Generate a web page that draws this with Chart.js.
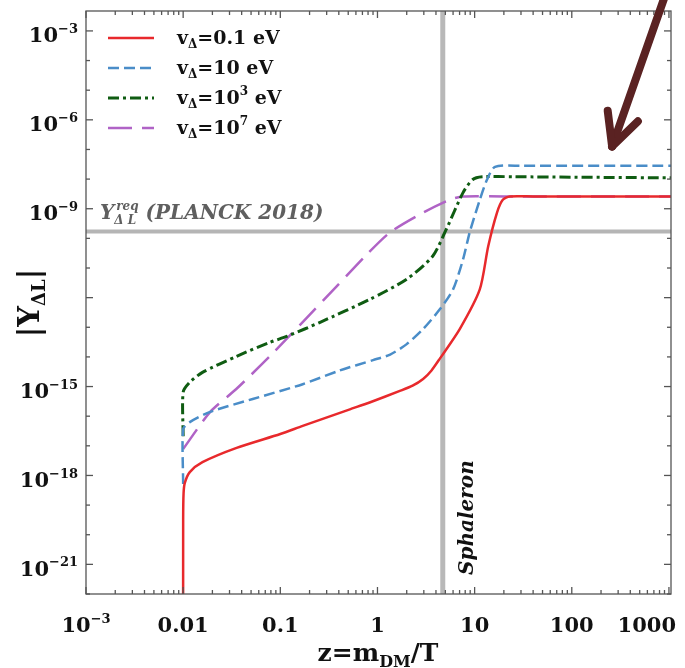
<!DOCTYPE html>
<html>
<head>
<meta charset="utf-8">
<script src="https://cdn.jsdelivr.net/npm/chart.js@4.4.0/dist/chart.umd.min.js"></script>
<style>
  html, body { margin: 0; padding: 0; background: #fff; }
  #wrap { width: 685px; height: 668px; }
</style>
</head>
<body>
<div id="wrap"><canvas id="chart" width="685" height="668"></canvas></div>
<script>
// Axis ranges
const X_MIN = 1e-3, X_MAX = 1050;
const Y_MIN = 1e-22, Y_MAX = 4.7e-3;

// Curves: z = m_DM/T and |Y_ΔL|
const zRed = [0.01, 0.01, 0.0101, 0.0104, 0.0117, 0.0158, 0.0355, 0.1, 0.17, 0.52, 0.83, 1.7, 2.3, 2.95, 3.6, 4.4, 7.05, 11.3, 13.8, 17, 19.5, 23, 40, 1050];
const yRed = [1e-23, 3.2e-20, 2.5e-19, 5.6e-19, 1.3e-18, 2.8e-18, 8.5e-18, 2.5e-17, 4.7e-17, 1.7e-16, 2.9e-16, 7.1e-16, 1.07e-15, 1.8e-15, 3.5e-15, 8.9e-15, 8.9e-14, 1.9e-12, 5.4e-11, 7.4e-10, 2.0e-9, 2.6e-9, 2.6e-9, 2.6e-9];

const zBlue = [0.01, 0.01, 0.0117, 0.019, 0.052, 0.17, 0.41, 0.9, 1.35, 2.0, 2.93, 4.4, 6.0, 7.6, 8.9, 11.3, 13.4, 16.2, 30, 1050];
const yBlue = [5.1e-19, 3.7e-17, 6.3e-17, 1.4e-16, 3.8e-16, 1.2e-15, 3.5e-15, 7.8e-15, 1.2e-14, 2.7e-14, 8.5e-14, 4.1e-13, 1.9e-12, 1.95e-11, 1.6e-10, 2.0e-9, 9.5e-9, 2.6e-8, 2.8e-8, 2.8e-8];

const zGreen = [0.01, 0.01, 0.0117, 0.0158, 0.0355, 0.078, 0.118, 0.26, 0.83, 2.0, 3.7, 5.1, 7.6, 9.5, 12, 25, 1050];
const yGreen = [2.1e-17, 6.5e-16, 1.4e-15, 3.0e-15, 1.05e-14, 3.1e-14, 5.0e-14, 1.5e-13, 8.7e-13, 4.2e-12, 2.5e-11, 2.0e-10, 3.5e-9, 9.5e-9, 1.2e-8, 1.2e-8, 1.1e-8];

const zPurple = [0.01, 0.019, 0.035, 0.078, 0.17, 0.38, 0.78, 1.35, 2.95, 5.5, 7.6, 20, 1050];
const yPurple = [7.8e-18, 1.4e-16, 8.1e-16, 1.05e-14, 1.5e-13, 2.4e-12, 2.9e-11, 1.6e-10, 7.4e-10, 2.0e-9, 2.6e-9, 2.6e-9, 2.6e-9];

// Reference lines
const planckY = 1.7e-10;
const sphaleronZ = 4.7;

// Ticks and labels ([text, kind] pieces, kind: n / sup / sub / stack)
const xTickValues = [1e-3, 0.01, 0.1, 1, 10, 100, 1000];
const xTickLabels = [[['10', 'n'], ['−3', 'sup']], [['0.01', 'n']], [['0.1', 'n']], [['1', 'n']], [['10', 'n']], [['100', 'n']], [['1000', 'n']]];
const yTickValues = [1e-3, 1e-6, 1e-9, 1e-15, 1e-18, 1e-21];
const yTickLabels = [[['10', 'n'], ['−3', 'sup']], [['10', 'n'], ['−6', 'sup']], [['10', 'n'], ['−9', 'sup']], [['10', 'n'], ['−15', 'sup']], [['10', 'n'], ['−18', 'sup']], [['10', 'n'], ['−21', 'sup']]];

const legendLabels = [
  [['v', 'n'], ['Δ', 'sub'], ['=0.1 eV', 'n']],
  [['v', 'n'], ['Δ', 'sub'], ['=10 eV', 'n']],
  [['v', 'n'], ['Δ', 'sub'], ['=10', 'n'], ['3', 'sup'], [' eV', 'n']],
  [['v', 'n'], ['Δ', 'sub'], ['=10', 'n'], ['7', 'sup'], [' eV', 'n']]
];
const xTitle = [['z=m', 'n'], ['DM', 'sub'], ['/T', 'n']];
const yTitle = [['|Y', 'n'], ['ΔL', 'sub'], ['|', 'n']];
const planckLabel = [['Y', 'n'], ['req|Δ L', 'stack'], [' (PLANCK 2018)', 'n']];

// Arrow annotation (tip and tail in data coords)
const arrowTip = { x: 260, y: 1.26e-7 };
const arrowTail = { x: 915, y: 1.6e-2 };

const FAMILY = '"DejaVu Serif", serif';

function pts(zs, ys) {
  return zs.map((z, i) => ({ x: z, y: ys[i] }));
}

function richParts(ctx, segs, size, style) {
  const base = style + ' ' + size + 'px ' + FAMILY;
  const small = style + ' ' + Math.round(size * 0.62) + 'px ' + FAMILY;
  return segs.map(([t, k]) => {
    if (k === 'stack') {
      const [up, dn] = t.split('|');
      ctx.font = small;
      return { t, k, up, dn, w: Math.max(ctx.measureText(up).width, ctx.measureText(dn).width) + 2 };
    }
    ctx.font = k === 'n' ? base : small;
    return { t, k, w: ctx.measureText(t).width };
  });
}

function richWidth(ctx, segs, size, style) {
  return richParts(ctx, segs, size, style).reduce((s, p) => s + p.w, 0);
}

function drawRich(ctx, segs, x, y, size, style, align) {
  const base = style + ' ' + size + 'px ' + FAMILY;
  const small = style + ' ' + Math.round(size * 0.62) + 'px ' + FAMILY;
  const parts = richParts(ctx, segs, size, style);
  const total = parts.reduce((s, p) => s + p.w, 0);
  let cx = align === 'center' ? x - total / 2 : align === 'right' ? x - total : x;
  ctx.textAlign = 'left';
  ctx.textBaseline = 'alphabetic';
  parts.forEach(p => {
    if (p.k === 'n') { ctx.font = base; ctx.fillText(p.t, cx, y); }
    else if (p.k === 'sub') { ctx.font = small; ctx.fillText(p.t, cx, y + size * 0.22); }
    else if (p.k === 'sup') { ctx.font = small; ctx.fillText(p.t, cx, y - size * 0.45); }
    else {
      ctx.font = small;
      ctx.fillText(p.up, cx + 2, y - size * 0.45);
      ctx.fillText(p.dn, cx, y + size * 0.25);
    }
    cx += p.w;
  });
}

function seg(ctx, x1, y1, x2, y2) {
  ctx.beginPath();
  ctx.moveTo(x1, y1);
  ctx.lineTo(x2, y2);
  ctx.stroke();
}

const decorPlugin = {
  id: 'decor',
  afterDatasetsDraw(chart) {
    const { ctx, chartArea: a, scales: { x, y } } = chart;
    ctx.save();

    // frame
    ctx.strokeStyle = '#555';
    ctx.lineWidth = 1.3;
    ctx.strokeRect(a.left, a.top, a.right - a.left, a.bottom - a.top);

    // x ticks, inward on bottom and top
    for (let e = -3; e <= 3; e++) {
      for (let m = 1; m < 10; m++) {
        const v = m * Math.pow(10, e);
        if (v < X_MIN || v > X_MAX) continue;
        const px = x.getPixelForValue(v);
        const len = m === 1 ? 7 : 4;
        seg(ctx, px, a.bottom, px, a.bottom - len);
        seg(ctx, px, a.top, px, a.top + len);
      }
    }
    // y ticks every decade, longer every third
    for (let e = -22; e <= -3; e++) {
      const py = y.getPixelForValue(Math.pow(10, e));
      const len = e % 3 === 0 ? 7 : 4;
      seg(ctx, a.left, py, a.left + len, py);
      seg(ctx, a.right, py, a.right - len, py);
    }

    // tick labels
    ctx.fillStyle = '#111';
    xTickValues.forEach((v, i) => {
      const w = richWidth(ctx, xTickLabels[i], 21, 'bold');
      const px = Math.min(x.getPixelForValue(v), 676 - w / 2);
      drawRich(ctx, xTickLabels[i], px, a.bottom + 38, 21, 'bold', 'center');
    });
    yTickValues.forEach((v, i) => {
      const py = y.getPixelForValue(v);
      drawRich(ctx, yTickLabels[i], a.left - 8, py + 11.5, 21, 'bold', 'right');
    });

    // axis titles
    drawRich(ctx, xTitle, 378, 661, 25, 'bold', 'center');
    ctx.save();
    ctx.translate(39, 303);
    ctx.rotate(-Math.PI / 2);
    drawRich(ctx, yTitle, 0, 0, 29, 'bold', 'center');
    ctx.restore();

    // legend
    chart.data.datasets.slice(0, 4).forEach((ds, i) => {
      const ry = a.top + 27 + i * 30;
      ctx.save();
      ctx.strokeStyle = ds.borderColor;
      ctx.lineWidth = ds.borderWidth;
      ctx.setLineDash(ds.borderDash || []);
      seg(ctx, a.left + 22, ry, a.left + 68, ry);
      ctx.restore();
      ctx.fillStyle = '#111';
      drawRich(ctx, legendLabels[i], a.left + 91, ry + 6, 19, 'bold', 'left');
    });

    // Planck label
    const hy = y.getPixelForValue(planckY);
    ctx.fillStyle = '#5f5f5f';
    drawRich(ctx, planckLabel, a.left + 14, hy - 13, 20, 'italic bold', 'left');

    // Sphaleron label
    const vx = x.getPixelForValue(sphaleronZ);
    ctx.fillStyle = '#111';
    ctx.save();
    ctx.translate(vx + 30, a.bottom - 19);
    ctx.rotate(-Math.PI / 2);
    drawRich(ctx, [['Sphaleron', 'n']], 0, 0, 20, 'italic bold', 'left');
    ctx.restore();

    // arrow
    const tx = x.getPixelForValue(arrowTip.x), ty = y.getPixelForValue(arrowTip.y);
    const sx = x.getPixelForValue(arrowTail.x), sy = y.getPixelForValue(arrowTail.y);
    const ang = Math.atan2(sy - ty, sx - tx);
    ctx.strokeStyle = '#5a2222';
    ctx.lineWidth = 8;
    ctx.lineCap = 'round';
    seg(ctx, sx, sy, tx, ty);
    [-0.46, 0.46].forEach(d => {
      seg(ctx, tx, ty, tx + 36 * Math.cos(ang + d), ty + 36 * Math.sin(ang + d));
    });

    ctx.restore();
  }
};

new Chart(document.getElementById('chart'), {
  type: 'line',
  data: {
    datasets: [
      { label: 'v=0.1 eV', data: pts(zRed, yRed), borderColor: '#e8292c', borderWidth: 2.5, order: 1 },
      { label: 'v=10 eV', data: pts(zBlue, yBlue), borderColor: '#4a8dc8', borderWidth: 2.5, borderDash: [11, 5], order: 2 },
      { label: 'v=10^3 eV', data: pts(zGreen, yGreen), borderColor: '#0f5c12', borderWidth: 3, borderDash: [11, 4, 3, 4], order: 3 },
      { label: 'v=10^7 eV', data: pts(zPurple, yPurple), borderColor: '#b063c6', borderWidth: 2.5, borderDash: [24, 10], order: 4 },
      { label: 'Planck', data: [{ x: X_MIN, y: planckY }, { x: X_MAX, y: planckY }], borderColor: '#b5b5b5', borderWidth: 4, order: 10, tension: 0 },
      { label: 'Sphaleron', data: [{ x: sphaleronZ, y: Y_MIN }, { x: sphaleronZ, y: Y_MAX }], borderColor: '#b8b8b8', borderWidth: 5, order: 10, tension: 0 }
    ]
  },
  options: {
    responsive: false,
    animation: false,
    layout: { padding: { left: 0, right: 14, top: 11, bottom: 0 } },
    elements: { point: { radius: 0 }, line: { tension: 0.25, fill: false } },
    plugins: { legend: { display: false }, tooltip: { enabled: false } },
    scales: {
      x: {
        type: 'logarithmic', min: X_MIN, max: X_MAX,
        grid: { display: false }, border: { display: false }, ticks: { display: false },
        afterFit(s) { s.height = 74; }
      },
      y: {
        type: 'logarithmic', min: Y_MIN, max: Y_MAX,
        grid: { display: false }, border: { display: false }, ticks: { display: false },
        afterFit(s) { s.width = 86; }
      }
    }
  },
  plugins: [decorPlugin]
});
</script>
</body>
</html>
